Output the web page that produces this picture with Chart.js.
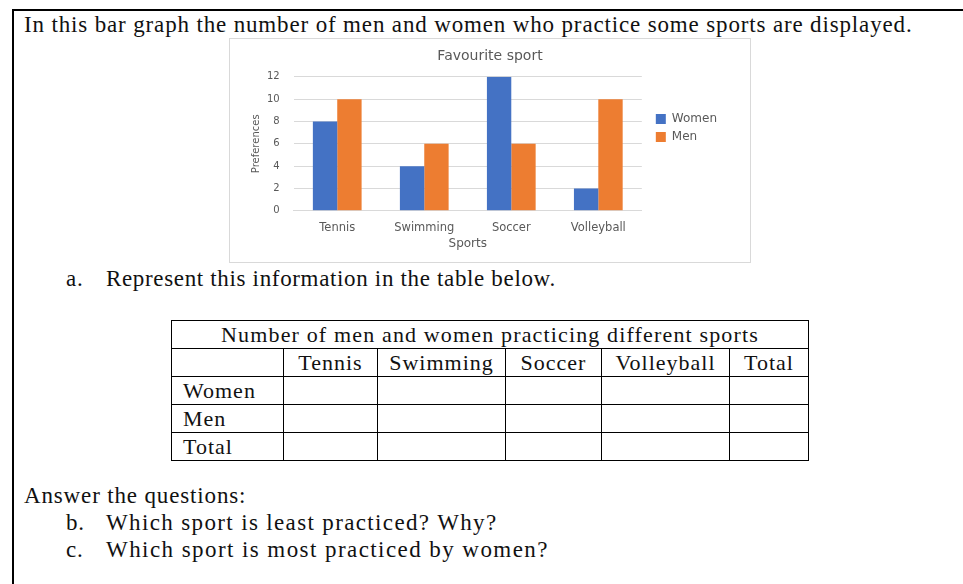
<!DOCTYPE html>
<html>
<head>
<meta charset="utf-8">
<script src="https://cdn.jsdelivr.net/npm/chart.js@4.4.1/dist/chart.umd.min.js"></script>
<style>
  html, body { margin: 0; padding: 0; background: #fff; }
  body { width: 963px; height: 584px; position: relative; overflow: hidden;
         font-family: "Liberation Serif", serif; color: #111; }
  .frame { position: absolute; left: 12px; top: 9px; width: 970px; height: 600px;
           border-left: 2px solid #000; border-top: 2px solid #000; }
  .txt { position: absolute; font-size: 23px; white-space: nowrap; letter-spacing: 0.85px; }
  .chartbox { position: absolute; left: 229px; top: 38px; width: 520px; height: 223px;
              border: 1px solid #d9d9d9; }
  table { position: absolute; left: 171px; top: 320px; border-collapse: collapse;
          font-size: 22px; letter-spacing: 1px; border: 1.5px solid #000; }
  td { border: 1px solid #000; height: 27px; padding: 0; line-height: 27px; }
  td.lab { padding-left: 11px; }
</style>
</head>
<body>
<div class="frame"></div>
<div class="txt" style="left:24px; top:12px;">In this bar graph the number of men and women who practice some sports are displayed.</div>
<div class="chartbox"><canvas id="chart" width="520" height="223"></canvas></div>
<div class="txt" style="left:66px; top:266px;">a.</div>
<div class="txt" style="left:106px; top:266px; letter-spacing:0.66px">Represent this information in the table below.</div>
<table id="tbl"></table>
<div class="txt" style="left:24px; top:483px;">Answer the questions:</div>
<div class="txt" style="left:66px; top:510px;">b.</div>
<div class="txt" style="left:106px; top:510px; letter-spacing:1.36px">Which sport is least practiced? Why?</div>
<div class="txt" style="left:66px; top:537px;">c.</div>
<div class="txt" style="left:106px; top:537px; letter-spacing:1.43px">Which sport is most practiced by women?</div>
<script>
// values
const sports = ['Tennis', 'Swimming', 'Soccer', 'Volleyball'];
const women = [8, 4, 12, 2];
const men = [10, 6, 6, 10];
const rowNames = ['Women', 'Men', 'Total'];
const colWidths = [112, 94, 128, 96, 128, 79];

// empty answer table
var tbl = document.getElementById('tbl');
var html = '<tr><td colspan="6" style="text-align:center;letter-spacing:1.15px">Number of men and women practicing different sports</td></tr>';
html += '<tr><td style="width:' + (colWidths[0] - 1) + 'px"></td>';
sports.concat(['Total']).forEach(function (s, i) {
  html += '<td style="text-align:center;width:' + (colWidths[i + 1] - 1) + 'px">' + s + '</td>';
});
html += '</tr>';
rowNames.forEach(function (r) {
  html += '<tr><td class="lab">' + r + '</td>' + '<td></td>'.repeat(5) + '</tr>';
});
tbl.innerHTML = html;

// put the legend and title where the original has them
var padRight = 31;
var tweakBoxes = {
  id: 'tweakBoxes',
  afterLayout: function (chart) {
    chart.legend.bottom -= 38;
    chart.legend.left += 8;
    chart.legend.right += 8;
    var d = (padRight - 16) / 2;
    chart.titleBlock.left += d;
    chart.titleBlock.right += d;
  }
};

var font = 'DejaVu Sans';
new Chart('chart', {
  type: 'bar',
  data: {
    labels: sports,
    datasets: [
      { label: 'Women', data: women, backgroundColor: '#4472C4' },
      { label: 'Men', data: men, backgroundColor: '#ED7D31' }
    ]
  },
  options: {
    responsive: false,
    animation: false,
    datasets: { bar: { categoryPercentage: 0.56, barPercentage: 1 } },
    layout: { padding: { left: 16, right: padRight, top: 4, bottom: 11 } },
    plugins: {
      title: { display: true, text: 'Favourite sport', color: '#595959',
               font: { family: font, size: 14, weight: 'normal' }, padding: { top: 5, bottom: 12 } },
      legend: { position: 'right',
                labels: { boxWidth: 10, boxHeight: 10, color: '#595959',
                          font: { family: font, size: 12 }, padding: 6 } },
      tooltip: { enabled: false }
    },
    scales: {
      x: {
        grid: { display: false },
        border: { color: '#d9d9d9' },
        ticks: { color: '#595959', font: { family: font, size: 11.5 }, padding: 2 },
        title: { display: true, text: 'Sports', color: '#595959',
                 font: { family: font, size: 12 }, padding: { top: 0, bottom: 0 } }
      },
      y: {
        min: 0, max: 12,
        ticks: { stepSize: 2, color: '#595959', font: { family: font, size: 10 }, padding: 14 },
        grid: { color: '#d9d9d9', drawTicks: false },
        border: { display: false },
        title: { display: true, text: 'Preferences', color: '#595959',
                 font: { family: font, size: 10 } },
        afterFit: function (scale) { scale.width -= 13; }
      }
    }
  },
  plugins: [tweakBoxes]
});
</script>
</body>
</html>
